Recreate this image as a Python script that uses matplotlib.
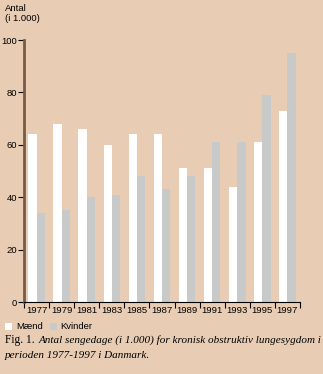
import matplotlib
matplotlib.use("Agg")
import matplotlib.pyplot as plt
import numpy as np
from matplotlib.patches import Rectangle

years = ["1977", "1979", "1981", "1983", "1985", "1987", "1989", "1991", "1993", "1995", "1997"]
maend = [64, 68, 66, 60, 64, 64, 51, 51, 44, 61, 73]
kvinder = [34, 35, 40, 41, 48, 43, 48, 61, 61, 79, 95]
yticks = [0, 20, 40, 60, 80, 100]

BG = "#E8CDB4"
GREY = "#C8CACA"
BROWN = "#7A5A44"

W, H = 323, 374
fig = plt.figure(figsize=(W / 100, H / 100), dpi=100)
fig.patch.set_facecolor(BG)
ax = fig.add_axes([24 / W, 1 - 302 / H, 276 / W, 262 / H])
ax.set_facecolor(BG)

x = np.arange(len(years))
bw = 0.33
ax.bar(x - bw / 2, maend, width=bw, color="white", linewidth=0)
ax.bar(x + bw / 2, kvinder, width=bw, color=GREY, linewidth=0)

ax.set_xlim(-0.5, len(years) - 0.5)
ax.set_ylim(0, 100)
ax.set_yticks(yticks)
ax.set_yticklabels([str(v) for v in yticks], fontsize=6.8, family="Liberation Sans")
ax.set_xticks(x)
ax.set_xticklabels(years, fontsize=6.8, family="Liberation Sans")
ax.tick_params(axis="x", length=0, pad=3)
ax.set_xticks(np.arange(len(years) + 1) - 0.5, minor=True)
ax.tick_params(axis="x", which="minor", length=4, width=0.8, color="black")
ax.tick_params(axis="y", length=4, width=0.8, color="black", pad=1)
for s in ["top", "right"]:
    ax.spines[s].set_visible(False)
ax.spines["left"].set_color(BROWN)
ax.spines["left"].set_linewidth(2)
ax.spines["bottom"].set_color("black")
ax.spines["bottom"].set_linewidth(0.8)

fig.text(5 / W, 1 - 4 / H, "Antal\n(i 1.000)", fontsize=6.8, family="Liberation Sans",
         va="top", ha="left", linespacing=1.1)

# legend
fig.patches.append(Rectangle((5 / W, 1 - 330 / H), 7 / W, 7 / H, transform=fig.transFigure,
                             facecolor="white", edgecolor="none"))
fig.text(16 / W, 1 - 326.5 / H, "Mænd", fontsize=6.8, family="Liberation Sans", va="center")
fig.patches.append(Rectangle((50 / W, 1 - 330 / H), 7 / W, 7 / H, transform=fig.transFigure,
                             facecolor=GREY, edgecolor="none"))
fig.text(60 / W, 1 - 326.5 / H, "Kvinder", fontsize=6.8, family="Liberation Sans", va="center")

# caption
CAP = 8.0
fig.canvas.draw()
r = fig.canvas.get_renderer()
t1 = fig.text(5 / W, 1 - 343 / H, "Fig. 1. ", fontsize=CAP + 0.3, family="Liberation Serif", va="baseline")
bb = t1.get_window_extent(renderer=r)
fig.text(bb.x1 / W + 1 / W, 1 - 343 / H, "Antal sengedage (i 1.000) for kronisk obstruktiv lungesygdom i",
         fontsize=CAP, family="Liberation Serif", style="italic", va="baseline")
fig.text(5 / W, 1 - 358 / H, "perioden 1977-1997 i Danmark.",
         fontsize=CAP, family="Liberation Serif", style="italic", va="baseline")

fig.savefig("out.png", dpi=100, facecolor=BG)
